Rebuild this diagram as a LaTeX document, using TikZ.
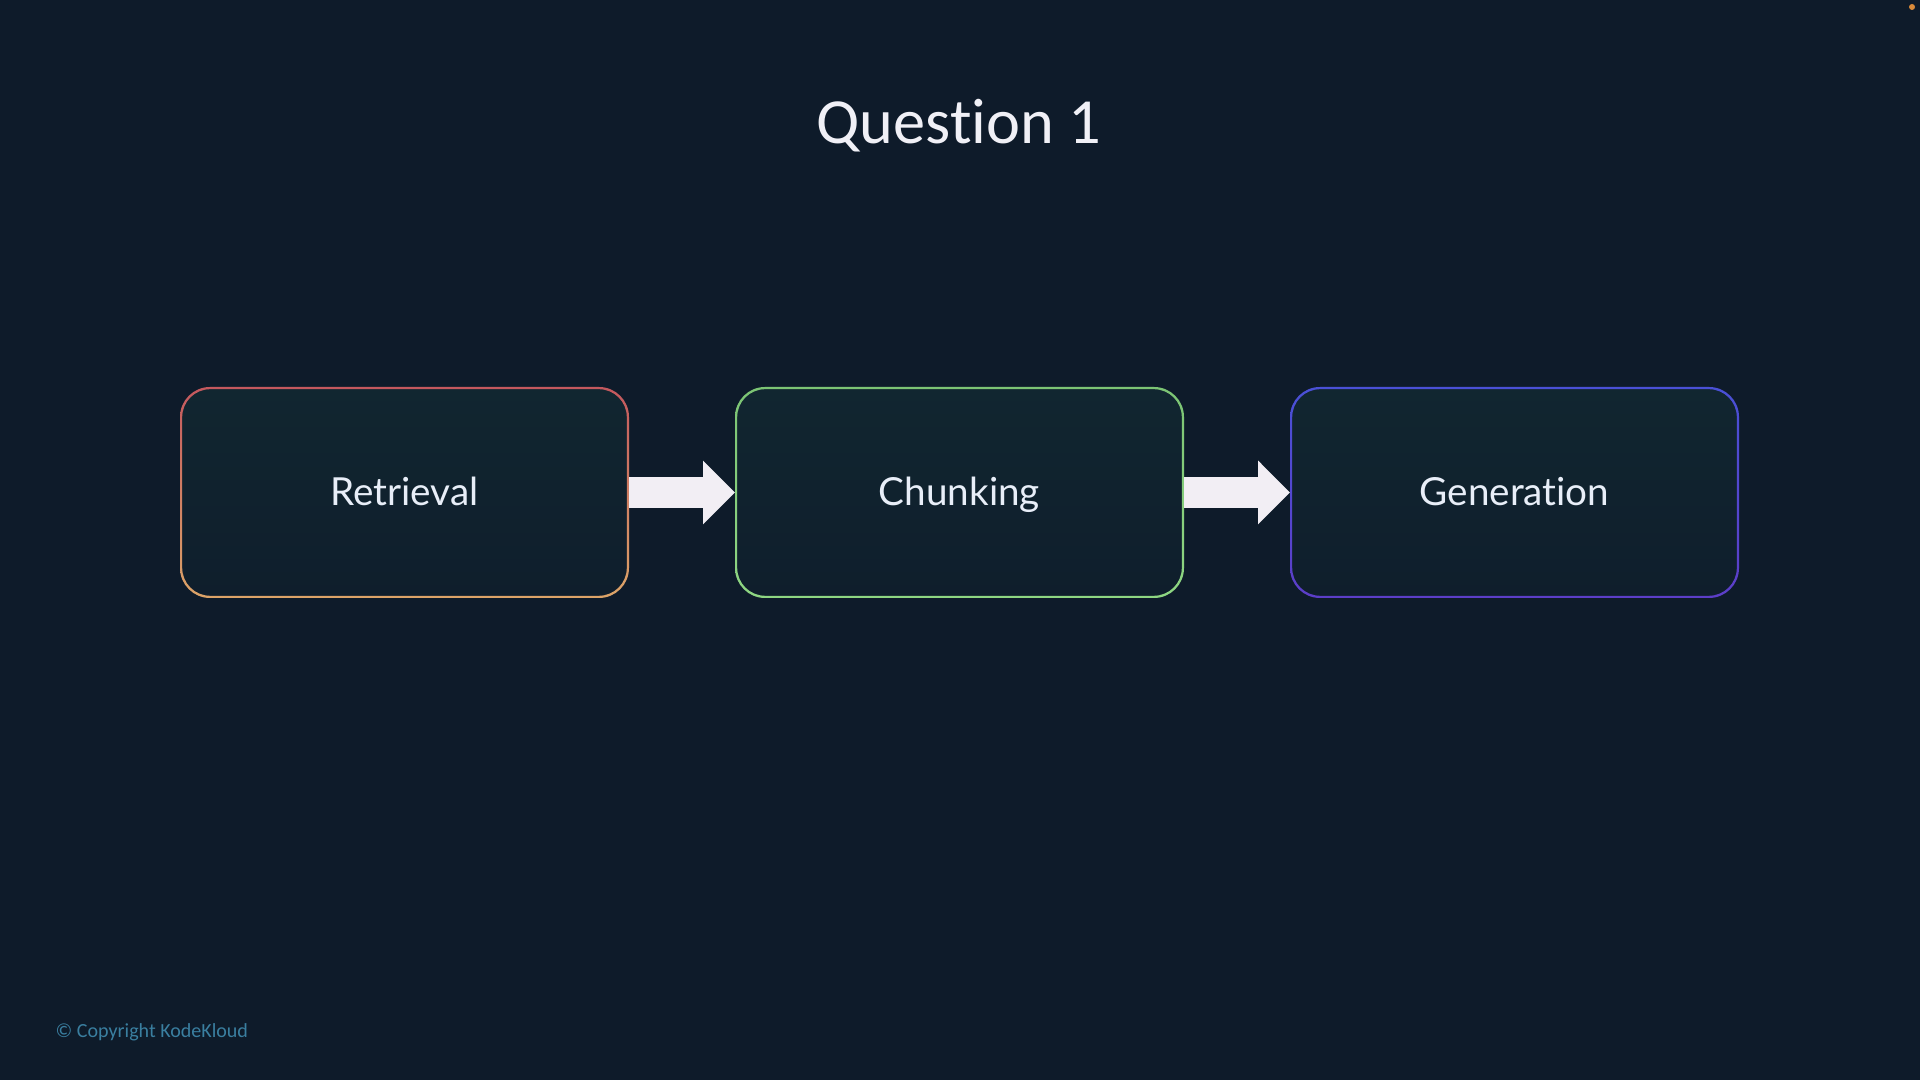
\documentclass[tikz,border=0pt]{standalone}
\usepackage{fontspec}
\setmainfont{Lato}[Ligatures=NoCommon]
\newfontfamily\calibri{Carlito}[Ligatures=NoCommon]
\usetikzlibrary{positioning,arrows.meta}
\definecolor{bg}{HTML}{0E1B2A}
\definecolor{boxtop}{HTML}{112630}
\definecolor{boxbot}{HTML}{0F1E2C}
\definecolor{labeltext}{HTML}{E8EEF8}
\definecolor{titletext}{HTML}{F0F0F6}
\definecolor{arrowfill}{HTML}{F2EEF4}
\definecolor{copyr}{HTML}{3A7FA0}
\definecolor{dotorange}{HTML}{D98A3A}
\definecolor{retrtop}{HTML}{C4585E}
\definecolor{retrbot}{HTML}{DCA468}
\definecolor{chunktop}{HTML}{7CC474}
\definecolor{chunkbot}{HTML}{8ED682}
\definecolor{gentop}{HTML}{4A50D6}
\definecolor{genbot}{HTML}{5C3EC8}

\begin{document}
\begin{tikzpicture}[
  stage/.style={minimum width=4.49cm,minimum height=2.11cm,rounded corners=0.3cm,outer sep=0pt,
    top color=boxtop,bottom color=boxbot,text=labeltext,text height=0.72em,text depth=0pt,
    font=\fontsize{11}{13}\selectfont},
  flow/.style={line width=0.31cm,arrowfill,-{Triangle[length=0.32cm,width=0.62cm]}}
]
  \useasboundingbox (0,0) rectangle (19.2,10.8);
  \fill[bg] (0,0) rectangle (19.2,10.8);
  \node[font=\calibri\fontsize{18.3}{21}\selectfont,text=titletext,anchor=base] (title) at (9.59,9.36) {Question 1};
  % pipeline
  \node[stage] (retr) at (4.045,5.875) {Retrieval};
  \node[stage,right=1.06cm of retr] (chunk) {Chunking};
  \node[stage,right=1.06cm of chunk] (gen) {Generation};
  \foreach \n/\ct/\cb in {retr/retrtop/retrbot,chunk/chunktop/chunkbot,gen/gentop/genbot}
    \shade[top color=\ct,bottom color=\cb,even odd rule,rounded corners=0.3cm]
      (\n.south west) rectangle (\n.north east)
      [rounded corners=0.28cm] ([shift={(0.022,0.022)}]\n.south west) rectangle ([shift={(-0.022,-0.022)}]\n.north east);
  \draw[flow] (retr) -- (chunk);
  \draw[flow] (chunk) -- (gen);
  \node[font=\calibri\fontsize{5.7}{7}\selectfont,text=copyr,anchor=base west,inner sep=0pt] (copy) at (0.55,0.42) {© Copyright KodeKloud};
  \fill[dotorange] (19.12,10.73) circle (0.03);
\end{tikzpicture}
\end{document}
